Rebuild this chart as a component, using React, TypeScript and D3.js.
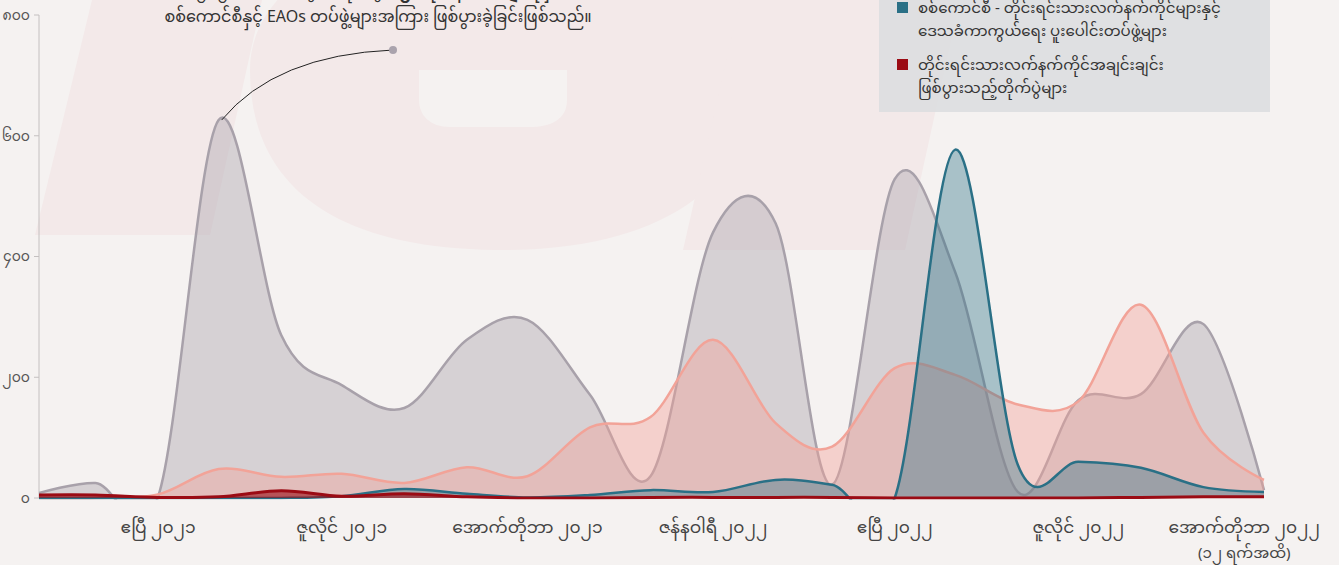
import React, { useEffect, useRef } from 'react';
import * as d3 from 'd3';

const months = [
  '2021-02-01', '2021-03-01', '2021-04-01', '2021-05-01', '2021-06-01', '2021-07-01', '2021-08-01',
  '2021-09-01', '2021-10-01', '2021-11-01', '2021-12-01', '2022-01-01', '2022-02-01', '2022-03-01',
  '2022-04-01', '2022-05-01', '2022-06-01', '2022-07-01', '2022-08-01', '2022-09-01', '2022-10-01',
];

// military council vs EAOs (gray)
const grayValues = [8, 25, 2, 626, 270, 187, 149, 262, 295, 171, 36, 440, 455, 22, 528, 374, 10, 162, 172, 288, 13];
// pink series
const pinkValues = [0, 0, 6, 48, 35, 40, 25, 51, 36, 117, 134, 262, 124, 85, 215, 204, 155, 160, 320, 108, 30];
// military council - joint EAO + PDF forces
const blueValues = [0, 0, 0, 0, 0, 3, 15, 7, 1, 5, 13, 10, 30, 22, 0, 577, 55, 60, 50, 18, 10];
// EAO vs EAO clashes
const redValues = [5, 5, 1, 2, 12, 3, 7, 2, 0, 0, 1, 1, 1, 1, 0, 0, 0, 0, 1, 2, 2];

const yTicks = [0, 200, 400, 600, 800];
const yTickLabels = ['၀', '၂၀၀', '၄၀၀', '၆၀၀', '၈၀၀'];

const xTickDates = ['2021-04-01', '2021-07-01', '2021-10-01', '2022-01-01', '2022-04-01', '2022-07-01', '2022-10-01'];
const xTickLabels = [
  'ဧပြီ ၂၀၂၁', 'ဇူလိုင် ၂၀၂၁', 'အောက်တိုဘာ ၂၀၂၁', 'ဇန်နဝါရီ ၂၀၂၂',
  'ဧပြီ ၂၀၂၂', 'ဇူလိုင် ၂၀၂၂', 'အောက်တိုဘာ ၂၀၂၂',
];

const legendItems = [
  { color: '#a8a1aa', lines: ['စစ်ကောင်စီနှင့် တိုင်းရင်းသားလက်နက်ကိုင်', 'တပ်ဖွဲ့များအကြား တိုက်ပွဲများ'] },
  { color: '#f2a398', lines: ['စစ်ကောင်စီနှင့် ဒေသခံကာကွယ်ရေး', 'တပ်ဖွဲ့များအကြား တိုက်ပွဲများ'] },
  { color: '#2a7086', lines: ['စစ်ကောင်စီ - တိုင်းရင်းသားလက်နက်ကိုင်များနှင့်', 'ဒေသခံကာကွယ်ရေး ပူးပေါင်းတပ်ဖွဲ့များ'] },
  { color: '#9b0b14', lines: ['တိုင်းရင်းသားလက်နက်ကိုင်အချင်းချင်း', 'ဖြစ်ပွားသည့်တိုက်ပွဲများ'] },
];

const FONT = '"Noto Sans Myanmar", "Padauk", "Myanmar Text", "Noto Sans", sans-serif';

const App = () => {
  const ref = useRef(null);

  useEffect(() => {
    document.body.style.margin = '0';
    const width = 1339, height = 565;
    const svg = d3.select(ref.current);
    svg.selectAll('*').remove();

    svg.append('rect').attr('width', width).attr('height', height).attr('fill', '#f5f2f1');

    // faint watermark logo
    const wm = svg.append('g').attr('fill', '#f3e9e9');
    wm.append('path').attr('d', 'M35,235 L210,235 L262,0 L92,0 Z');
    wm.append('path')
      .attr('fill-rule', 'evenodd')
      .attr('d', 'M250,70 C250,-120 760,-140 760,60 C760,200 640,252 495,250 C340,248 250,190 250,70 Z M419,70 L567,70 L567,100 C567,120 550,127 530,127 L450,127 C430,127 419,115 419,100 Z');
    wm.append('path').attr('d', 'M683,250 L905,250 L960,0 L740,0 Z');

    const margin = { left: 39, right: 75, top: 15, bottom: 67 };
    const x = d3.scaleTime()
      .domain([new Date(months[0]), new Date(months[months.length - 1])])
      .range([margin.left, width - margin.right]);
    const y = d3.scaleLinear().domain([0, 800]).range([height - margin.bottom, margin.top]);

    svg.append('defs').append('clipPath').attr('id', 'plot-clip')
      .append('rect')
      .attr('x', margin.left).attr('y', -50)
      .attr('width', width - margin.right - margin.left + 2)
      .attr('height', y(0) + 51.5);

    // y axis
    const yAxis = svg.append('g');
    yAxis.append('line')
      .attr('x1', margin.left).attr('x2', margin.left)
      .attr('y1', y(800)).attr('y2', y(0))
      .attr('stroke', '#c4c0c0').attr('stroke-width', 1);
    yAxis.selectAll('line.tick').data(yTicks).join('line')
      .attr('class', 'tick')
      .attr('x1', margin.left - 5).attr('x2', margin.left)
      .attr('y1', d => y(d)).attr('y2', d => y(d))
      .attr('stroke', '#c4c0c0');
    yAxis.selectAll('text').data(yTicks).join('text')
      .attr('x', margin.left - 9)
      .attr('y', d => y(d))
      .attr('dy', '0.35em')
      .attr('text-anchor', 'end')
      .attr('font-family', FONT)
      .attr('font-size', 14)
      .attr('fill', '#555')
      .text((d, i) => yTickLabels[i]);

    const series = [
      { values: grayValues, color: '#a8a1aa', fillOpacity: 0.4, sw: 2.5 },
      { values: pinkValues, color: '#f2a398', fillOpacity: 0.42, sw: 2.5 },
      { values: blueValues, color: '#2a7086', fillOpacity: 0.38, sw: 2.5 },
      { values: redValues, color: '#9b0b14', fillOpacity: 0.6, sw: 3 },
    ];

    const plot = svg.append('g').attr('clip-path', 'url(#plot-clip)');
    series.forEach(s => {
      const pts = months.map((m, i) => ({ date: new Date(m), value: s.values[i] }));
      const area = d3.area()
        .x(d => x(d.date))
        .y0(y(0))
        .y1(d => y(d.value))
        .curve(d3.curveCatmullRom.alpha(0));
      const line = d3.line()
        .x(d => x(d.date))
        .y(d => y(d.value))
        .curve(d3.curveCatmullRom.alpha(0));
      plot.append('path').datum(pts)
        .attr('d', area)
        .attr('fill', s.color)
        .attr('fill-opacity', s.fillOpacity);
      plot.append('path').datum(pts)
        .attr('d', line)
        .attr('fill', 'none')
        .attr('stroke', s.color)
        .attr('stroke-width', s.sw);
    });

    // x axis labels
    const xAxis = svg.append('g');
    xTickDates.forEach((d, i) => {
      const t = xAxis.append('text')
        .attr('x', x(new Date(d)))
        .attr('y', y(0) + 35)
        .attr('text-anchor', 'middle')
        .attr('font-family', FONT)
        .attr('font-size', 17)
        .attr('fill', '#444')
        .text(xTickLabels[i]);
      const bb = t.node().getBBox();
      const over = bb.x + bb.width - (width - 19);
      if (over > 0) t.attr('x', x(new Date(d)) - over);
      if (i === xTickDates.length - 1) {
        xAxis.append('text')
          .attr('x', +t.attr('x'))
          .attr('y', y(0) + 60)
          .attr('text-anchor', 'middle')
          .attr('font-family', FONT)
          .attr('font-size', 15)
          .attr('fill', '#444')
          .text('(၁၂ ရက်အထိ)');
      }
    });

    // annotation
    const peakIdx = grayValues.indexOf(d3.max(grayValues));
    const px = x(new Date(months[peakIdx])) + 3;
    const py = y(grayValues[peakIdx]);
    const ex = 393, ey = 50;
    svg.append('path')
      .attr('d', `M${px},${py} Q${px + 54},${ey + 5} ${ex},${ey}`)
      .attr('fill', 'none')
      .attr('stroke', '#222')
      .attr('stroke-width', 1);
    svg.append('circle').attr('cx', ex).attr('cy', ey).attr('r', 4).attr('fill', '#aaa3ad');
    const ann = svg.append('text')
      .attr('text-anchor', 'middle')
      .attr('font-family', FONT)
      .attr('font-size', 16)
      .attr('fill', '#333');
    const l1 = ann.append('tspan').attr('x', 378).attr('y', -5);
    l1.append('tspan').text('၂၀၂၁ မေလအတွင်း တိုက်ပွဲ ');
    l1.append('tspan').attr('font-weight', 'bold').text('၆၂၆ ခုအနက် အများစုမှာ');
    ann.append('tspan').attr('x', 378).attr('y', 22)
      .text('စစ်ကောင်စီနှင့် EAOs တပ်ဖွဲ့များအကြား ဖြစ်ပွားခဲ့ခြင်းဖြစ်သည်။');

    // legend
    const lg = svg.append('g');
    lg.append('rect')
      .attr('x', 879).attr('y', -140)
      .attr('width', 391).attr('height', 252)
      .attr('fill', '#dbdddf').attr('fill-opacity', 0.85);
    legendItems.forEach((it, i) => {
      const top = 2 + (i - 2) * 57;
      lg.append('rect')
        .attr('x', 897).attr('y', top)
        .attr('width', 11).attr('height', 11)
        .attr('fill', it.color);
      it.lines.forEach((ln, j) => {
        lg.append('text')
          .attr('x', 918).attr('y', top + 11 + j * 23)
          .attr('font-family', FONT)
          .attr('font-size', 15)
          .attr('fill', '#333')
          .text(ln);
      });
    });
  }, []);

  return <svg ref={ref} width={1339} height={565} style={{ display: 'block' }}></svg>;
};

export default App;
